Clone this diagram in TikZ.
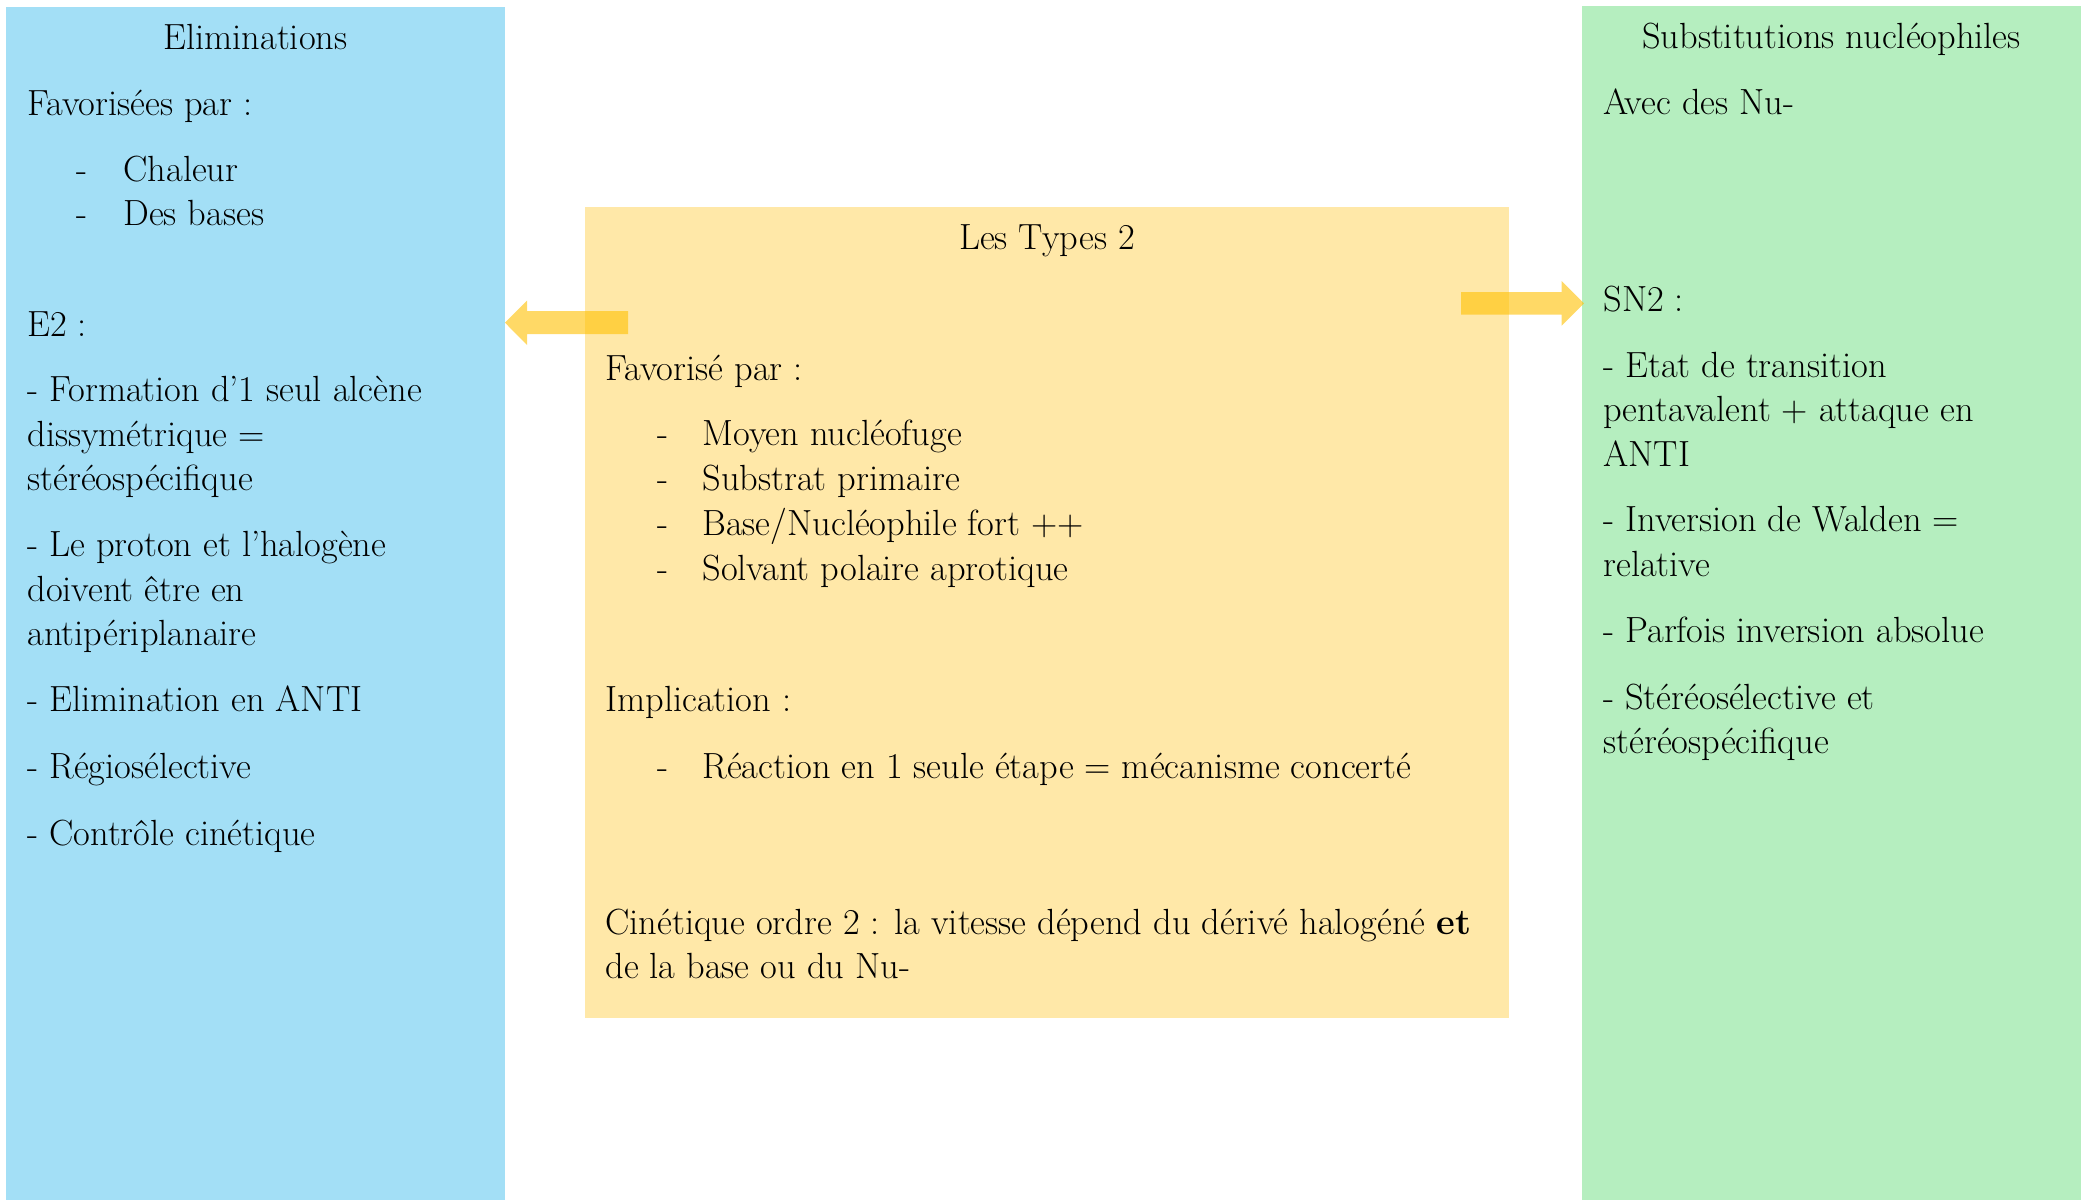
\documentclass[tikz,border=0pt]{standalone}
\usepackage{tikz}
\definecolor{boxblue}{HTML}{A3DFF6}
\definecolor{boxgreen}{HTML}{B5EEBF}
\definecolor{boxyellow}{HTML}{FFE8A8}
\definecolor{arrowgold}{HTML}{FFC000}
\begin{document}
\begin{tikzpicture}[x=0.5pt,y=-0.5pt,
  txt/.style={anchor=base west,inner sep=0pt,font=\fontsize{18.2}{22}\selectfont},
  ttl/.style={anchor=base,inner sep=0pt,font=\fontsize{18.2}{22}\selectfont},
  blockarrow/.style={fill=arrowgold,fill opacity=0.6,draw=none}]
\useasboundingbox (0,0) rectangle (2085,1200);
% panels
\fill[boxblue] (6,7) rectangle (505,1200);
\fill[boxgreen] (1582,6) rectangle (2081,1200);
\fill[boxyellow] (585,207) rectangle (1509,1018);
% left column
\node[ttl] (elim) at (255.5,49) {Eliminations};
\node[txt] (l1) at (27,115) {Favorisées par :};
\node[txt] (l2d) at (76,181) {-};
\node[txt] (l2) at (123,181) {Chaleur};
\node[txt] (l3d) at (76,225) {-};
\node[txt] (l3) at (123,225) {Des bases};
\node[txt] (l4) at (27,336) {E2 :};
\node[txt] (l5) at (27,401.7) {- Formation d’1 seul alcène};
\node[txt] (l6) at (27,446) {dissymétrique =};
\node[txt] (l7) at (27,490.3) {stéréospécifique};
\node[txt] (l8) at (27,556.7) {- Le proton et l’halogène};
\node[txt] (l9) at (27,601) {doivent être en};
\node[txt] (l10) at (27,645.3) {antipériplanaire};
\node[txt] (l11) at (27,711.7) {- Elimination en ANTI};
\node[txt] (l12) at (27,778.3) {- Régiosélective};
\node[txt] (l13) at (27,845) {- Contrôle cinétique};
% center column
\node[ttl] (types) at (1047,249) {Les Types 2};
\node[txt] (c1) at (605,380.7) {Favorisé par :};
\node[txt] (c2d) at (657,445) {-};
\node[txt] (c2) at (702,445) {Moyen nucléofuge};
\node[txt] (c3d) at (657,490.5) {-};
\node[txt] (c3) at (702,490.5) {Substrat primaire};
\node[txt] (c4d) at (657,535.5) {-};
\node[txt] (c4) at (702,535.5) {Base/Nucléophile fort ++};
\node[txt] (c5d) at (657,580) {-};
\node[txt] (c5) at (702,580) {Solvant polaire aprotique};
\node[txt] (c6) at (605,711.7) {Implication :};
\node[txt] (c7d) at (657,778.3) {-};
\node[txt] (c7) at (702,778.3) {Réaction en 1 seule étape = mécanisme concerté};
\node[txt] (c8) at (605,934) {Cinétique ordre 2 : la vitesse dépend du dérivé halogéné \textbf{et}};
\node[txt] (c9) at (605,978.3) {de la base ou du Nu-};
% right column
\node[ttl] (subst) at (1831.5,48) {Substitutions nucléophiles};
\node[txt] (r1) at (1603,114) {Avec des Nu-};
\node[txt] (r2) at (1603,311.7) {SN2 :};
\node[txt] (r3) at (1603,377.3) {- Etat de transition};
\node[txt] (r4) at (1603,421.7) {pentavalent + attaque en};
\node[txt] (r5) at (1603,466) {ANTI};
\node[txt] (r6) at (1603,531.7) {- Inversion de Walden =};
\node[txt] (r7) at (1603,576) {relative};
\node[txt] (r8) at (1603,642.5) {- Parfois inversion absolue};
\node[txt] (r9) at (1603,709) {- Stéréosélective et};
\node[txt] (r10) at (1603,753.3) {stéréospécifique};
% block arrows
\coordinate (lt) at (505,322.7);
\coordinate (rt) at (1584,303.3);
\fill[blockarrow] (lt) -- (527,300.7) -- (527,311) -- (628,311) -- (628,334) -- (527,334) -- (527,345) -- cycle;
\fill[blockarrow] (rt) -- (1561.7,281) -- (1561.7,292) -- (1461,292) -- (1461,314.7) -- (1561.7,314.7) -- (1561.7,325.7) -- cycle;
\end{tikzpicture}
\end{document}
